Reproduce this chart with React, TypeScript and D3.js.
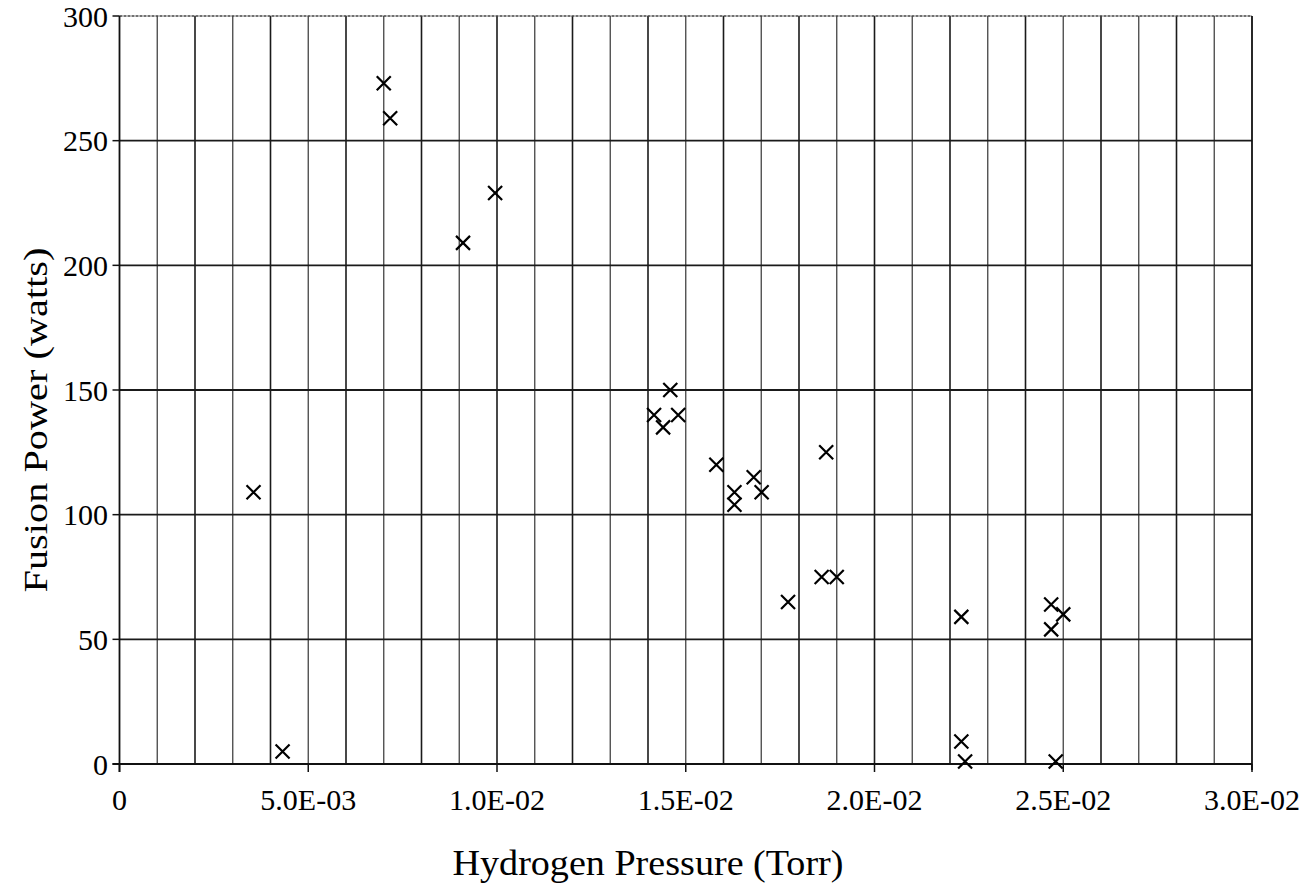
import React from "react";
import * as d3 from "d3";

const pressure = [
  0.00355, 0.00432, 0.0070, 0.00717, 0.0091, 0.00995,
  0.01416, 0.0144, 0.01459, 0.0148, 0.01581, 0.01629, 0.01629, 0.0168, 0.01701, 0.01872,
  0.0186, 0.0190, 0.01771,
  0.0223, 0.0223, 0.0224, 0.02468, 0.02468, 0.0250, 0.0248,
];
const power = [
  109, 5, 273, 259, 209, 229,
  140, 135, 150, 140, 120, 109, 104, 115, 109, 125,
  75, 75, 65,
  59, 9, 1, 64, 54, 60, 1,
];
const xTicks = [0, 0.005, 0.01, 0.015, 0.02, 0.025, 0.03];
const xTickLabels = ["0", "5.0E-03", "1.0E-02", "1.5E-02", "2.0E-02", "2.5E-02", "3.0E-02"];
const yTicks = [0, 50, 100, 150, 200, 250, 300];
const xGrid = d3.range(1, 30).map((i) => i * 0.001);

const W = 1313;
const H = 886;
const L = 119.5;
const R = 1252;
const T = 16;
const B = 764;

export default function App() {
  const x = d3.scaleLinear().domain([0, 0.03]).range([L, R]);
  const y = d3.scaleLinear().domain([0, 300]).range([B, T]);
  const font = "'Liberation Serif', 'Times New Roman', serif";
  const s = 7;
  return (
    <svg
      width={W}
      height={H}
      style={{ position: "absolute", left: 0, top: 0, background: "#fff" }}
      fontFamily={font}
    >
      <rect x={0} y={0} width={W} height={H} fill="#fff" />
      {xGrid.map((v, i) => (
        <line
          key={"vx" + i}
          x1={x(v)}
          x2={x(v)}
          y1={T}
          y2={B}
          stroke={i % 2 === 0 ? "#444" : "#1a1a1a"}
          strokeWidth={i % 2 === 0 ? 1.3 : 1.6}
        />
      ))}
      {yTicks.slice(1, -1).map((v) => (
        <line key={"hy" + v} x1={L} x2={R} y1={y(v)} y2={y(v)} stroke="#1a1a1a" strokeWidth={1.8} />
      ))}
      <line x1={L} x2={R} y1={T} y2={T} stroke="#444" strokeWidth={1.5} strokeDasharray="3,1" />
      <line x1={R} x2={R} y1={T} y2={B + 6} stroke="#111" strokeWidth={1.8} />
      <line x1={L} x2={L} y1={T} y2={B + 8} stroke="#111" strokeWidth={1.8} />
      <line x1={L - 7} x2={R} y1={B} y2={B} stroke="#111" strokeWidth={1.8} />
      {yTicks.map((v) => (
        <g key={"yt" + v}>
          <line x1={L - 7} x2={L} y1={y(v)} y2={y(v)} stroke="#111" strokeWidth={1.5} />
          <text x={108} y={y(v)} dy="0.35em" textAnchor="end" fontSize={30} fill="#000">
            {v}
          </text>
        </g>
      ))}
      {xTicks.map((v, i) => (
        <g key={"xt" + v}>
          <line x1={x(v)} x2={x(v)} y1={B} y2={B + 8} stroke="#111" strokeWidth={1.5} />
          <text x={x(v)} y={810} textAnchor="middle" fontSize={30} fill="#000">
            {xTickLabels[i]}
          </text>
        </g>
      ))}
      <text
        x={648}
        y={875}
        textAnchor="middle"
        fontSize={35}
        fill="#000"
        textLength={391}
        lengthAdjust="spacingAndGlyphs"
      >
        Hydrogen Pressure (Torr)
      </text>
      <text
        transform={`translate(47,${420}) rotate(-90)`}
        textAnchor="middle"
        fontSize={34}
        fill="#000"
        textLength={345}
        lengthAdjust="spacingAndGlyphs"
      >
        Fusion Power (watts)
      </text>
      {pressure.map((p, i) => {
        const cx = x(p);
        const cy = y(power[i]);
        return (
          <path
            key={"m" + i}
            d={`M${cx - s},${cy - s}L${cx + s},${cy + s}M${cx - s},${cy + s}L${cx + s},${cy - s}`}
            stroke="#000"
            strokeWidth={2.2}
            fill="none"
          />
        );
      })}
    </svg>
  );
}
